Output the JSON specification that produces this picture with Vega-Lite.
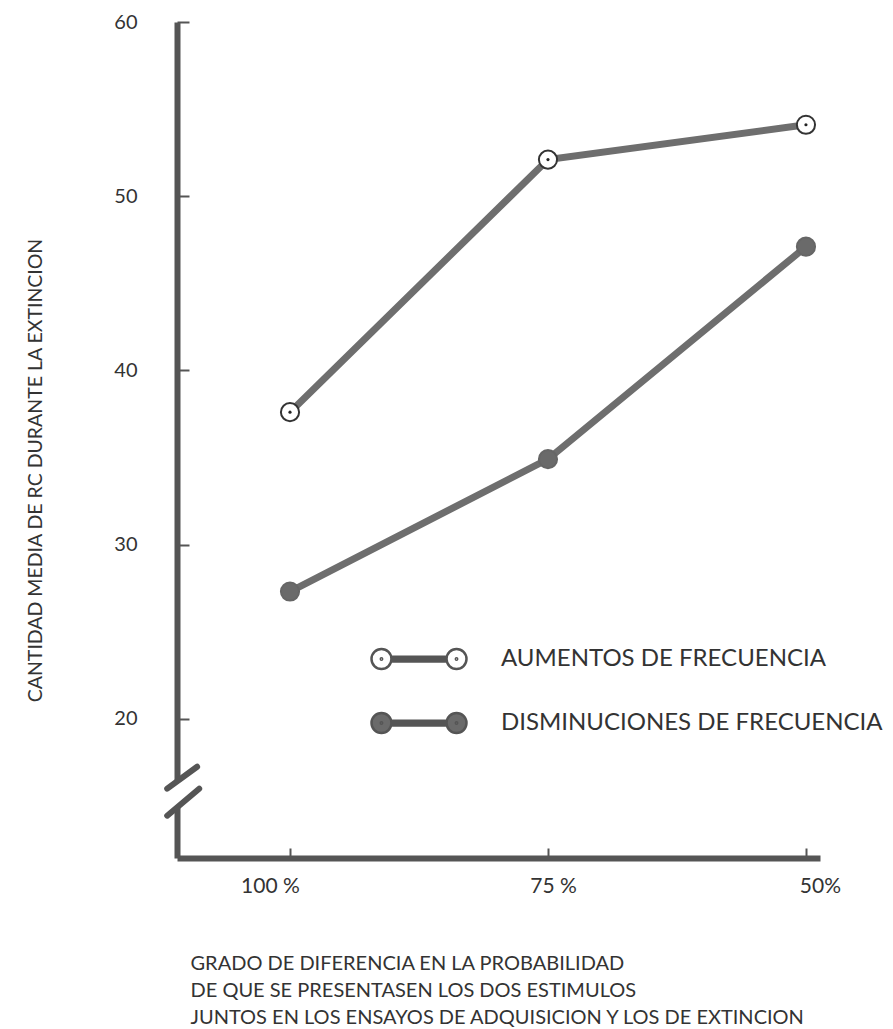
{
  "$schema": "https://vega.github.io/schema/vega-lite/v6.json",
  "width": 643,
  "height": 836,
  "autosize": "none",
  "padding": {"left": 177, "top": 22, "right": 73, "bottom": 171},
  "background": "white",
  "config": {
    "view": {"stroke": null},
    "font": "Lato",
    "axis": {"grid": false, "zindex": 0}
  },
  "datasets": {
    "series": [
      {"serie": "AUMENTOS DE FRECUENCIA", "prob": 100, "rc": 37.6},
      {"serie": "AUMENTOS DE FRECUENCIA", "prob": 75, "rc": 52.1},
      {"serie": "AUMENTOS DE FRECUENCIA", "prob": 50, "rc": 54.1},
      {"serie": "DISMINUCIONES DE FRECUENCIA", "prob": 100, "rc": 27.3},
      {"serie": "DISMINUCIONES DE FRECUENCIA", "prob": 75, "rc": 34.9},
      {"serie": "DISMINUCIONES DE FRECUENCIA", "prob": 50, "rc": 47.1}
    ],
    "brk": [
      {"x": 111.9, "y": 15.98, "x2": 109.0, "y2": 17.24},
      {"x": 111.9, "y": 14.43, "x2": 108.8, "y2": 15.98}
    ],
    "gap": [
      {"x": 110.95, "y": 14.9, "y2": 16.4}
    ]
  },
  "layer": [
    {
      "data": {"name": "series"},
      "mark": {"type": "line", "stroke": "#6e6e6e", "strokeWidth": 7, "strokeCap": "round"},
      "encoding": {
        "x": {
          "field": "prob", "type": "quantitative",
          "scale": {"domain": [48.64, 110.95], "reverse": true, "nice": false, "zero": false},
          "axis": {
            "values": [100, 75, 50],
            "labelExpr": "datum.value == 50 ? '50%' : datum.value + ' %'",
            "domainColor": "#555", "domainWidth": 6,
            "tickColor": "#555", "tickWidth": 2, "tickSize": -10,
            "labelPadding": 27, "labelFontSize": 21, "labelColor": "#333", "labelFont": "Lato",
            "labelOffset": {"condition": [{"test": "datum.value == 100", "value": -20}, {"test": "datum.value == 50", "value": 14}], "value": 5},
            "title": ["GRADO DE DIFERENCIA EN LA PROBABILIDAD", "DE QUE SE  PRESENTASEN LOS DOS ESTIMULOS", "JUNTOS EN LOS ENSAYOS DE ADQUISICION  Y LOS DE EXTINCION"],
            "titleFont": "Lato", "titleFontSize": 20, "titleFontWeight": "normal", "titleColor": "#333",
            "titleAnchor": "start", "titleAlign": "left", "titleBaseline": "middle",
            "titleX": 13, "titleY": 105, "titleLineHeight": 27
          }
        },
        "y": {
          "field": "rc", "type": "quantitative",
          "scale": {"domain": [12, 60], "nice": false, "zero": false},
          "axis": {
            "values": [20, 30, 40, 50, 60],
            "domainColor": "#555", "domainWidth": 6,
            "tickColor": "#555", "tickWidth": 2, "tickSize": -12,
            "labelPadding": 52, "labelFontSize": 20, "labelColor": "#333", "labelFont": "Lato",
            "title": "CANTIDAD MEDIA DE RC DURANTE LA EXTINCION",
            "titleFont": "Lato", "titleFontSize": 19.5, "titleFontWeight": "normal", "titleColor": "#333",
            "titleAngle": -90, "titleAlign": "center", "titleBaseline": "middle",
            "titleX": -142, "titleY": 448
          }
        },
        "detail": {"field": "serie"}
      }
    },
    {
      "data": {"name": "series"},
      "mark": {"type": "point", "filled": true, "shape": "circle", "size": 330, "strokeWidth": 2, "opacity": 1},
      "encoding": {
        "x": {"field": "prob", "type": "quantitative"},
        "y": {"field": "rc", "type": "quantitative"},
        "stroke": {"condition": {"test": "datum.serie == 'AUMENTOS DE FRECUENCIA'", "value": "#333"}, "value": "#666"},
        "fill": {
          "field": "serie", "type": "nominal",
          "scale": {"domain": ["AUMENTOS DE FRECUENCIA", "DISMINUCIONES DE FRECUENCIA"], "range": ["#ffffff", "#6a6a6a"]},
          "legend": {
            "title": null,
            "orient": "none", "legendX": 193, "legendY": 588,
            "symbolType": "M-0.58,0 A0.21,0.21 0 1,0 -1,0 A0.21,0.21 0 1,0 -0.58,0 Z M1,0 A0.21,0.21 0 1,0 0.58,0 A0.21,0.21 0 1,0 1,0 Z M-0.58,-0.05 L0.58,-0.05 M-0.58,-0.025 L0.58,-0.025 M-0.58,0 L0.58,0 M-0.58,0.025 L0.58,0.025 M-0.58,0.05 L0.58,0.05 M-0.775,0 A0.015,0.015 0 1,0 -0.805,0 A0.015,0.015 0 1,0 -0.775,0 Z M0.805,0 A0.015,0.015 0 1,0 0.775,0 A0.015,0.015 0 1,0 0.805,0 Z",
            "symbolSize": 9025,
            "symbolStrokeColor": "#555",
            "symbolStrokeWidth": 2.5,
            "symbolOpacity": 1,
            "labelFont": "Lato", "labelFontSize": 24, "labelColor": "#333",
            "labelOffset": 33, "labelLimit": 500,
            "rowPadding": -6
          }
        }
      }
    },
    {
      "data": {"name": "series"},
      "transform": [{"filter": "datum.serie == 'AUMENTOS DE FRECUENCIA'"}],
      "mark": {"type": "point", "filled": true, "shape": "circle", "size": 10, "fill": "#222", "opacity": 1},
      "encoding": {
        "x": {"field": "prob", "type": "quantitative"},
        "y": {"field": "rc", "type": "quantitative"}
      }
    },
    {
      "data": {"name": "gap"},
      "mark": {"type": "rule", "stroke": "white", "strokeWidth": 10, "clip": false},
      "encoding": {
        "x": {"field": "x", "type": "quantitative"},
        "y": {"field": "y", "type": "quantitative"},
        "y2": {"field": "y2"}
      }
    },
    {
      "data": {"name": "brk"},
      "mark": {"type": "rule", "stroke": "#555", "strokeWidth": 6, "strokeCap": "round", "clip": false},
      "encoding": {
        "x": {"field": "x", "type": "quantitative"},
        "y": {"field": "y", "type": "quantitative"},
        "x2": {"field": "x2"},
        "y2": {"field": "y2"}
      }
    }
  ]
}
